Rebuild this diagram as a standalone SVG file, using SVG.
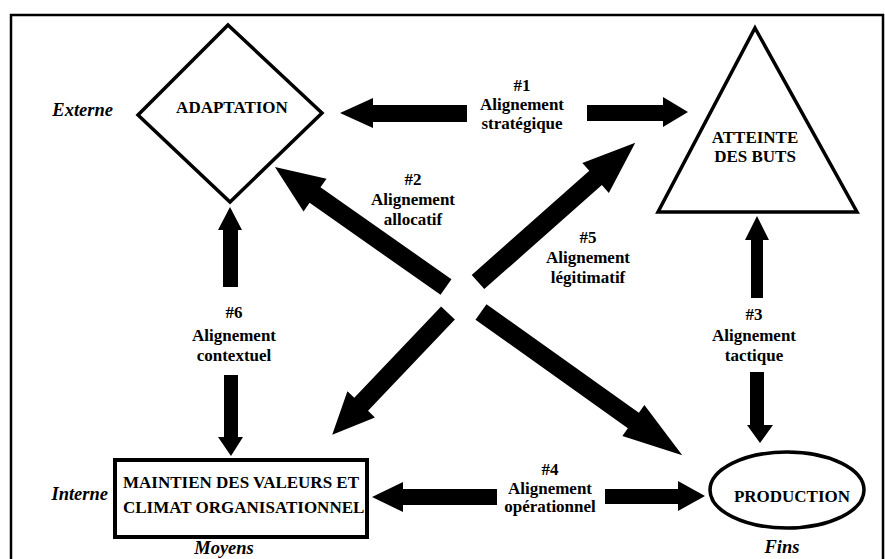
<svg xmlns="http://www.w3.org/2000/svg" width="885" height="559" viewBox="0 0 885 559">
<style>
text{font-family:'Liberation Serif','Times New Roman','DejaVu Serif',serif;fill:#000}
.t{font-weight:bold;font-size:17px;text-anchor:middle}
.l{text-anchor:start}
.i{font-weight:bold;font-style:italic;font-size:18.5px}
.s{fill:#fff;stroke:#000}
.a{fill:#000;stroke:none}
</style>
<rect width="885" height="559" fill="#fff"/>
<path d="M11,565 V15 H883 V565" fill="none" stroke="#000" stroke-width="2.5"/>

<g id="adaptation">
<polygon class="s" stroke-width="3.5" points="228,25 322,113 230,202 138,115"/>
<text class="t" x="232" y="113">ADAPTATION</text>
</g>
<g id="atteinte">
<polygon class="s" stroke-width="3.5" points="755,28 857,212 658,212"/>
<text class="t" x="755" y="143">ATTEINTE</text>
<text class="t" x="755" y="162">DES BUTS</text>
</g>
<g id="maintien">
<rect class="s" stroke-width="4" x="115" y="460" width="252" height="77"/>
<text class="t l" x="123" y="488">MAINTIEN DES VALEURS ET</text>
<text class="t l" x="123" y="513">CLIMAT ORGANISATIONNEL</text>
</g>
<g id="production">
<ellipse class="s" stroke-width="3.5" cx="787" cy="490" rx="77" ry="38"/>
<text class="t" x="792" y="502">PRODUCTION</text>
</g>

<g id="axis-labels">
<text class="i" x="113" y="116" text-anchor="end">Externe</text>
<text class="i" x="108" y="500" text-anchor="end">Interne</text>
<text class="i" x="224" y="554" text-anchor="middle">Moyens</text>
<text class="i" x="782" y="553" text-anchor="middle">Fins</text>
</g>

<g id="connectors">
<polygon class="a" points="467,105 373,105 373,98 340,113 373,128 373,122 467,122"/>
<polygon class="a" points="587,105 663,105 663,97 688,112 663,127 663,121 587,121"/>
<polygon class="a" points="497,489 403,489 403,482 372,497 403,512 403,505 497,505"/>
<polygon class="a" points="605,489 678,489 678,481 705,496 678,511 678,504 605,504"/>
<polygon class="a" points="223,287 223,230 218,230 230,207 242,230 238,230 238,287"/>
<polygon class="a" points="224,375 238,375 238,437 243,437 231,456 218,437 224,437"/>
<polygon class="a" points="751,298 751,240 745,240 757,216 769,240 763,240 763,298"/>
<polygon class="a" points="750,372 764,372 764,425 773,425 760,443 747,425 750,425"/>
<polygon class="a" transform="translate(446,287) rotate(-144.94)" points="0,-9.5 160,-9.5 160,-20 209,0 160,20 160,9.5 0,9.5"/>
<polygon class="a" transform="translate(478,282) rotate(-41.5)" points="0,-9.5 157,-9.5 157,-20 210,0 157,20 157,9.5 0,9.5"/>
<polygon class="a" transform="translate(448,313) rotate(133.56)" points="0,-9.5 126,-9.5 126,-19 168,0 126,19 126,9.5 0,9.5"/>
<polygon class="a" transform="translate(481,312) rotate(35.43)" points="0,-9.5 187,-9.5 187,-19 247,0 187,19 187,9.5 0,9.5"/>
</g>

<g id="connector-labels">
<text class="t" x="522" y="91">#1</text>
<text class="t" x="522" y="110">Alignement</text>
<text class="t" x="522" y="129">stratégique</text>
<text class="t" x="413" y="185">#2</text>
<text class="t" x="413" y="205">Alignement</text>
<text class="t" x="413" y="225">allocatif</text>
<text class="t" x="754" y="320">#3</text>
<text class="t" x="754" y="341">Alignement</text>
<text class="t" x="754" y="361">tactique</text>
<text class="t" x="550" y="475">#4</text>
<text class="t" x="550" y="494">Alignement</text>
<text class="t" x="550" y="512">opérationnel</text>
<text class="t" x="588" y="243">#5</text>
<text class="t" x="588" y="263">Alignement</text>
<text class="t" x="588" y="283">légitimatif</text>
<text class="t" x="234" y="318">#6</text>
<text class="t" x="234" y="341">Alignement</text>
<text class="t" x="234" y="361">contextuel</text>
</g>
</svg>
